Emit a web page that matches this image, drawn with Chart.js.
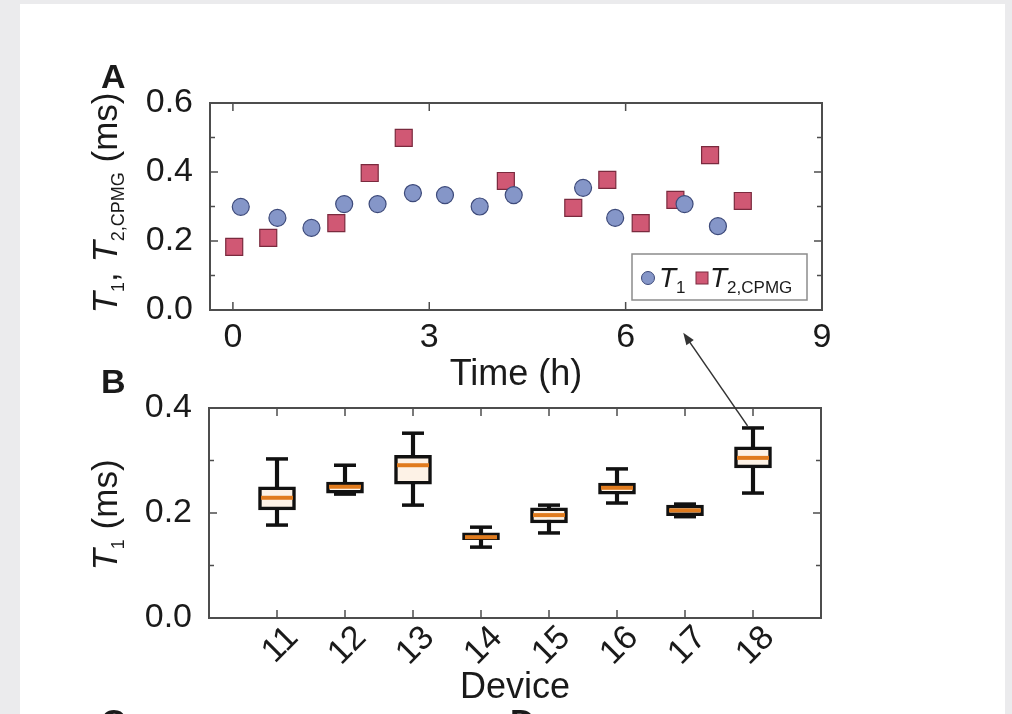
<!DOCTYPE html>
<html>
<head>
<meta charset="utf-8">
<script src="https://cdn.jsdelivr.net/npm/chart.js@4.4.1/dist/chart.umd.min.js"></script>
<style>
  html, body { margin: 0; padding: 0; background: #ebebed; overflow: hidden; }
  #page { position: relative; width: 1012px; height: 714px; }
  #card { position: absolute; left: 20px; top: 4px; width: 985px; height: 720px; background: #fff; }
  canvas { position: absolute; left: 0; }
  #chartA { top: 0; }
  #chartB { top: 360px; }
  #overlay { top: 0; pointer-events: none; }
</style>
</head>
<body>
<div id="page">
  <div id="card"></div>
  <canvas id="chartA" width="1012" height="400"></canvas>
  <canvas id="chartB" width="1012" height="354"></canvas>
  <canvas id="overlay" width="1012" height="714"></canvas>
</div>
<script>
// Panel A: relaxation times against time
const hoursT1 = [0.12, 0.68, 1.20, 1.70, 2.21, 2.75, 3.24, 3.77, 4.29, 5.35, 5.84, 6.90, 7.41];
const valuesT1 = [0.299, 0.267, 0.238, 0.307, 0.307, 0.339, 0.333, 0.300, 0.333, 0.354, 0.267, 0.307, 0.243];
const hoursT2 = [0.02, 0.54, 1.58, 2.09, 2.61, 4.17, 5.20, 5.72, 6.23, 6.76, 7.29, 7.79];
const valuesT2 = [0.183, 0.209, 0.252, 0.397, 0.499, 0.374, 0.296, 0.377, 0.252, 0.319, 0.449, 0.316];
const timeTicks = [0, 3, 6, 9];
const relaxMajor = [0.0, 0.2, 0.4, 0.6];
const relaxMinor = [0.1, 0.3, 0.5];

// Panel B: T1 spread per device (box plots)
const devices = [11, 12, 13, 14, 15, 16, 17, 18];
const whiskerLow = [0.177, 0.236, 0.215, 0.135, 0.162, 0.219, 0.193, 0.238];
const q1 = [0.206, 0.238, 0.255, 0.149, 0.181, 0.236, 0.195, 0.286];
const median = [0.229, 0.250, 0.291, 0.154, 0.196, 0.248, 0.205, 0.305];
const q3 = [0.250, 0.259, 0.310, 0.162, 0.210, 0.257, 0.215, 0.326];
const whiskerHigh = [0.303, 0.291, 0.352, 0.173, 0.215, 0.284, 0.217, 0.362];
const t1Major = [0.0, 0.2, 0.4];
const t1Minor = [0.1, 0.3];

// arrow from device 18 box to the matching point in time
const arrowTail = { device: 17.92, t1: 0.366 };
const arrowHead = { time: 6.88, value: -0.066 };

const FONT = "'Liberation Sans', Arial, Helvetica, sans-serif";
const INK = '#1a1a1a';
const FRAME = '#4d4d4d';
Chart.defaults.font.family = FONT;
Chart.defaults.color = INK;

// draw text made of pieces (for subscripts)
function drawRich(ctx, parts, x, y, align) {
    let w = 0;
    parts.forEach(p => { ctx.font = p[1]; w += ctx.measureText(p[0]).width; });
    let cx = align === 'center' ? x - w / 2 : x;
    ctx.textAlign = 'left';
    ctx.textBaseline = 'alphabetic';
    parts.forEach(p => {
        ctx.font = p[1];
        ctx.fillText(p[0], cx, y + (p[2] || 0));
        cx += ctx.measureText(p[0]).width;
    });
}

function drawVertical(ctx, parts, baseX, centerY) {
    ctx.save();
    ctx.translate(baseX, centerY);
    ctx.rotate(-Math.PI / 2);
    drawRich(ctx, parts, 0, 0, 'center');
    ctx.restore();
}

// frame with inward ticks on all four sides
function drawFrame(chart, xMajor, xMinor, yMajor, yMinor) {
    const { ctx, chartArea: a, scales: { x, y } } = chart;
    ctx.save();
    ctx.strokeStyle = FRAME;
    ctx.lineWidth = 1.5;
    const seg = (x1, y1, x2, y2) => { ctx.beginPath(); ctx.moveTo(x1, y1); ctx.lineTo(x2, y2); ctx.stroke(); };
    const xt = (vals, len) => vals.forEach(v => {
        const px = x.getPixelForValue(v);
        seg(px, a.bottom, px, a.bottom - len);
        seg(px, a.top, px, a.top + len);
    });
    const yt = (vals, len) => vals.forEach(v => {
        const py = y.getPixelForValue(v);
        seg(a.left, py, a.left + len, py);
        seg(a.right, py, a.right - len, py);
    });
    xt(xMajor, 8); xt(xMinor, 5);
    yt(yMajor, 8); yt(yMinor, 5);
    ctx.lineWidth = 2;
    ctx.strokeRect(a.left, a.top, a.right - a.left, a.bottom - a.top);
    ctx.restore();
}

const t1Fill = '#8596c8', t1Edge = '#3d4a7a';
const t2Fill = '#d05874', t2Edge = '#7a2a3e';

const panelA = {
    id: 'panelA',
    afterDraw(chart) {
        const { ctx, chartArea: a } = chart;
        drawFrame(chart, timeTicks, [], relaxMajor, relaxMinor);
        ctx.save();
        ctx.fillStyle = INK;
        // panel letter
        ctx.font = `bold 34px ${FONT}`;
        ctx.textAlign = 'left';
        ctx.fillText('A', 101, 88);
        // axis titles
        drawRich(ctx, [['Time (h)', `36px ${FONT}`]], (a.left + a.right) / 2, 385, 'center');
        drawVertical(ctx, [
            ['T', `italic 35px ${FONT}`], ['1', `18px ${FONT}`, 7], [', ', `35px ${FONT}`],
            ['T', `italic 35px ${FONT}`], ['2,CPMG', `18px ${FONT}`, 7], [' (ms)', `35px ${FONT}`]
        ], 117, 203);
        // legend
        const lw = 175, lh = 46;
        const lx = a.right - 15 - lw, ly = a.bottom - 10 - lh;
        ctx.fillStyle = '#fff';
        ctx.fillRect(lx, ly, lw, lh);
        ctx.strokeStyle = '#8c8c8c';
        ctx.lineWidth = 1.5;
        ctx.strokeRect(lx, ly, lw, lh);
        ctx.beginPath();
        ctx.arc(lx + 16, ly + 24, 6.5, 0, Math.PI * 2);
        ctx.fillStyle = t1Fill; ctx.fill();
        ctx.strokeStyle = t1Edge; ctx.lineWidth = 1; ctx.stroke();
        ctx.fillStyle = INK;
        drawRich(ctx, [['T', `italic 28px ${FONT}`], ['1', `17px ${FONT}`, 6]], lx + 27, ly + 33);
        ctx.fillStyle = t2Fill;
        ctx.fillRect(lx + 64, ly + 18, 12, 12);
        ctx.strokeStyle = t2Edge;
        ctx.strokeRect(lx + 64, ly + 18, 12, 12);
        ctx.fillStyle = INK;
        drawRich(ctx, [['T', `italic 28px ${FONT}`], ['2,CPMG', `17px ${FONT}`, 6]], lx + 78, ly + 33);
        ctx.restore();
    }
};

const chartA = new Chart(document.getElementById('chartA'), {
    type: 'scatter',
    data: {
        datasets: [
            {
                label: 'T1',
                data: hoursT1.map((h, i) => ({ x: h, y: valuesT1[i] })),
                pointStyle: 'circle',
                pointRadius: 8.5,
                backgroundColor: t1Fill,
                borderColor: t1Edge,
                borderWidth: 1.2
            },
            {
                label: 'T2,CPMG',
                data: hoursT2.map((h, i) => ({ x: h, y: valuesT2[i] })),
                pointStyle: 'rect',
                pointRadius: 12,
                backgroundColor: t2Fill,
                borderColor: t2Edge,
                borderWidth: 1.2
            }
        ]
    },
    options: {
        responsive: false,
        animation: false,
        layout: { padding: { left: 120, right: 190, top: 103, bottom: 40 } },
        plugins: { legend: { display: false }, tooltip: { enabled: false } },
        scales: {
            x: {
                type: 'linear',
                min: -0.35,
                max: 9,
                grid: { display: false },
                border: { display: false },
                afterBuildTicks: s => { s.ticks = timeTicks.map(v => ({ value: v })); },
                afterFit: s => { s.height = 50; },
                ticks: { font: { size: 34 }, padding: -1, maxRotation: 0, callback: v => String(v) }
            },
            y: {
                min: 0,
                max: 0.6,
                grid: { display: false },
                border: { display: false },
                afterBuildTicks: s => { s.ticks = relaxMajor.map(v => ({ value: v })); },
                afterFit: s => { s.width = 90; },
                ticks: { font: { size: 34 }, padding: 9, callback: v => v.toFixed(1) }
            }
        }
    },
    plugins: [panelA]
});

const boxFill = '#fdf2e6';
const medianColor = '#e07b1e';

const panelB = {
    id: 'panelB',
    afterDatasetsDraw(chart) {
        const { ctx, scales: { x, y } } = chart;
        ctx.save();
        ctx.lineCap = 'butt';
        devices.forEach((d, i) => {
            const px = x.getPixelForValue(d);
            // whisker caps
            ctx.strokeStyle = '#111';
            ctx.lineWidth = 3.5;
            [whiskerLow[i], whiskerHigh[i]].forEach(v => {
                const py = y.getPixelForValue(v);
                ctx.beginPath(); ctx.moveTo(px - 11, py); ctx.lineTo(px + 11, py); ctx.stroke();
            });
            // median
            const pm = y.getPixelForValue(median[i]);
            ctx.strokeStyle = medianColor;
            ctx.lineWidth = 4;
            ctx.beginPath(); ctx.moveTo(px - 16, pm); ctx.lineTo(px + 16, pm); ctx.stroke();
        });
        ctx.restore();
    },
    afterDraw(chart) {
        const { ctx, chartArea: a } = chart;
        drawFrame(chart, devices, [], t1Major, t1Minor);
        ctx.save();
        ctx.fillStyle = INK;
        ctx.font = `bold 34px ${FONT}`;
        ctx.textAlign = 'left';
        ctx.fillText('B', 101, 33);
        ctx.fillText('C', 101, 373);
        ctx.fillText('D', 510, 373);
        drawRich(ctx, [['Device', `36px ${FONT}`]], (a.left + a.right) / 2, 338, 'center');
        drawVertical(ctx, [
            ['T', `italic 35px ${FONT}`], ['1', `18px ${FONT}`, 7], [' (ms)', `35px ${FONT}`]
        ], 117, 155);
        ctx.restore();
    }
};

const chartB = new Chart(document.getElementById('chartB'), {
    type: 'bar',
    data: {
        datasets: [
            {
                label: 'box',
                data: devices.map((d, i) => ({ x: d, y: [q1[i], q3[i]] })),
                backgroundColor: boxFill,
                borderColor: '#111',
                borderWidth: 3.5,
                borderSkipped: false,
                barThickness: 37,
                order: 0
            },
            {
                label: 'whisker',
                data: devices.map((d, i) => ({ x: d, y: [whiskerLow[i], whiskerHigh[i]] })),
                backgroundColor: '#111',
                borderWidth: 0,
                barThickness: 3.5,
                order: 1
            }
        ]
    },
    options: {
        responsive: false,
        animation: false,
        grouped: false,
        layout: { padding: { left: 119, right: 191, top: 48, bottom: 0 } },
        plugins: { legend: { display: false }, tooltip: { enabled: false } },
        scales: {
            x: {
                type: 'linear',
                offset: false,
                min: 10,
                max: 19,
                grid: { display: false, offset: false },
                border: { display: false },
                afterBuildTicks: s => { s.ticks = devices.map(v => ({ value: v })); },
                afterFit: s => { s.height = 96; },
                ticks: { font: { size: 34 }, padding: -8, labelOffset: 16, minRotation: 45, maxRotation: 45, callback: v => String(v) }
            },
            y: {
                min: 0,
                max: 0.4,
                grid: { display: false },
                border: { display: false },
                afterBuildTicks: s => { s.ticks = t1Major.map(v => ({ value: v })); },
                afterFit: s => { s.width = 90; },
                ticks: { font: { size: 34 }, padding: 9, callback: v => v.toFixed(1) }
            }
        }
    },
    plugins: [panelB]
});

// annotation arrow spanning both panels
function drawArrow() {
    const ctx = document.getElementById('overlay').getContext('2d');
    const offB = 360;
    const x1 = chartB.scales.x.getPixelForValue(arrowTail.device);
    const y1 = offB + chartB.scales.y.getPixelForValue(arrowTail.t1);
    const x2 = chartA.scales.x.getPixelForValue(arrowHead.time);
    const y2 = chartA.scales.y.getPixelForValue(arrowHead.value);
    const ang = Math.atan2(y2 - y1, x2 - x1);
    const len = 12, half = 4.5;
    ctx.strokeStyle = '#333';
    ctx.fillStyle = '#333';
    ctx.lineWidth = 1.5;
    ctx.beginPath();
    ctx.moveTo(x1, y1);
    ctx.lineTo(x2 - Math.cos(ang) * len * 0.8, y2 - Math.sin(ang) * len * 0.8);
    ctx.stroke();
    ctx.beginPath();
    ctx.moveTo(x2, y2);
    ctx.lineTo(x2 - Math.cos(ang) * len - Math.sin(ang) * half, y2 - Math.sin(ang) * len + Math.cos(ang) * half);
    ctx.lineTo(x2 - Math.cos(ang) * len + Math.sin(ang) * half, y2 - Math.sin(ang) * len - Math.cos(ang) * half);
    ctx.closePath();
    ctx.fill();
}

drawArrow();
</script>
</body>
</html>
